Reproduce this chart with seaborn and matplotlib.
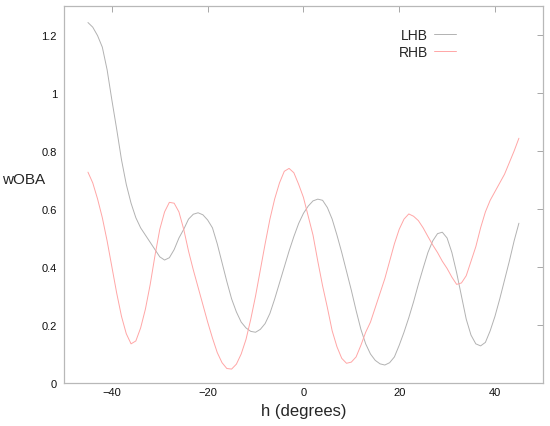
import numpy as np
import pandas as pd
import matplotlib
matplotlib.use("Agg")
import matplotlib.pyplot as plt
from matplotlib.ticker import FuncFormatter
import seaborn as sns

# horizontal angle, one reading per degree
h_deg = list(range(-45, 46))

lhb_woba = [
    1.243, 1.227, 1.198, 1.158, 1.08, 0.975, 0.875, 0.77, 0.685, 0.62,
    0.57, 0.535, 0.51, 0.485, 0.46, 0.435, 0.424, 0.432, 0.46, 0.50,
    0.53, 0.565, 0.582, 0.587, 0.58, 0.562, 0.535, 0.48, 0.415, 0.35,
    0.29, 0.245, 0.21, 0.19, 0.178, 0.175, 0.185, 0.205, 0.24, 0.29,
    0.345, 0.40, 0.455, 0.505, 0.55, 0.585, 0.61, 0.628, 0.634, 0.63,
    0.605, 0.565, 0.51, 0.45, 0.385, 0.32, 0.25, 0.185, 0.135, 0.10,
    0.078, 0.066, 0.062, 0.07, 0.09, 0.13, 0.175, 0.225, 0.28, 0.34,
    0.396, 0.45, 0.49, 0.515, 0.52, 0.50, 0.45, 0.38, 0.30, 0.22,
    0.165, 0.135, 0.128, 0.14, 0.18, 0.23, 0.29, 0.355, 0.42, 0.49,
    0.551,
]

rhb_woba = [
    0.727, 0.69, 0.635, 0.57, 0.49, 0.40, 0.31, 0.23, 0.17, 0.135,
    0.145, 0.19, 0.255, 0.34, 0.44, 0.53, 0.59, 0.623, 0.62, 0.59,
    0.53, 0.455, 0.39, 0.33, 0.27, 0.21, 0.155, 0.105, 0.07, 0.05,
    0.048, 0.065, 0.10, 0.15, 0.22, 0.30, 0.39, 0.48, 0.565, 0.635,
    0.69, 0.73, 0.74, 0.725, 0.685, 0.64, 0.575, 0.51, 0.42, 0.335,
    0.26, 0.18, 0.125, 0.085, 0.068, 0.072, 0.09, 0.13, 0.175, 0.21,
    0.26, 0.31, 0.36, 0.42, 0.48, 0.53, 0.565, 0.583, 0.575, 0.56,
    0.535, 0.505, 0.476, 0.45, 0.42, 0.395, 0.365, 0.34, 0.345, 0.37,
    0.42, 0.47, 0.535, 0.59, 0.63, 0.66, 0.69, 0.72, 0.76, 0.80,
    0.844,
]

df = pd.DataFrame({
    "h": h_deg * 2,
    "wOBA": lhb_woba + rhb_woba,
    "hand": ["LHB"] * len(h_deg) + ["RHB"] * len(h_deg),
})

sns.set_style("white")
plt.rcParams["font.family"] = ["Liberation Sans", "DejaVu Sans"]

fig = plt.figure(figsize=(5.5, 4.27), dpi=100)
ax = fig.add_axes([0.1164, 0.1007, 0.8706, 0.8829])

sns.lineplot(data=df, x="h", y="wOBA", hue="hand",
             palette={"LHB": "#b2b2b2", "RHB": "#ffa6a6"},
             linewidth=0.7, ax=ax)

ax.set_xlim(-50, 50)
ax.set_ylim(0, 1.3)
ax.set_xticks([-40, -20, 0, 20, 40])
ax.set_yticks([0, 0.2, 0.4, 0.6, 0.8, 1, 1.2])
ax.yaxis.set_major_formatter(FuncFormatter(lambda v, p: f"{v:g}"))
ax.tick_params(direction="in", length=4, width=0.6, color="#999999",
               top=True, right=True, labelsize=8, labelcolor="#111111")
ax.tick_params(axis="x", pad=3)
ax.tick_params(axis="y", pad=5)

for s in ax.spines.values():
    s.set_color("#b8b8b8")
    s.set_linewidth(0.9)

ax.set_xlabel("h (degrees)", fontsize=12, labelpad=4)
ax.set_ylabel("wOBA", fontsize=11, rotation=0, va="center")
ax.yaxis.set_label_coords(-0.085, 0.54)

leg = ax.legend(loc="upper right", bbox_to_anchor=(0.845, 0.975), frameon=False,
                fontsize=10, markerfirst=False, handlelength=1.6,
                handletextpad=0.4, labelspacing=0.2)

plt.savefig("out.png", dpi=100)
